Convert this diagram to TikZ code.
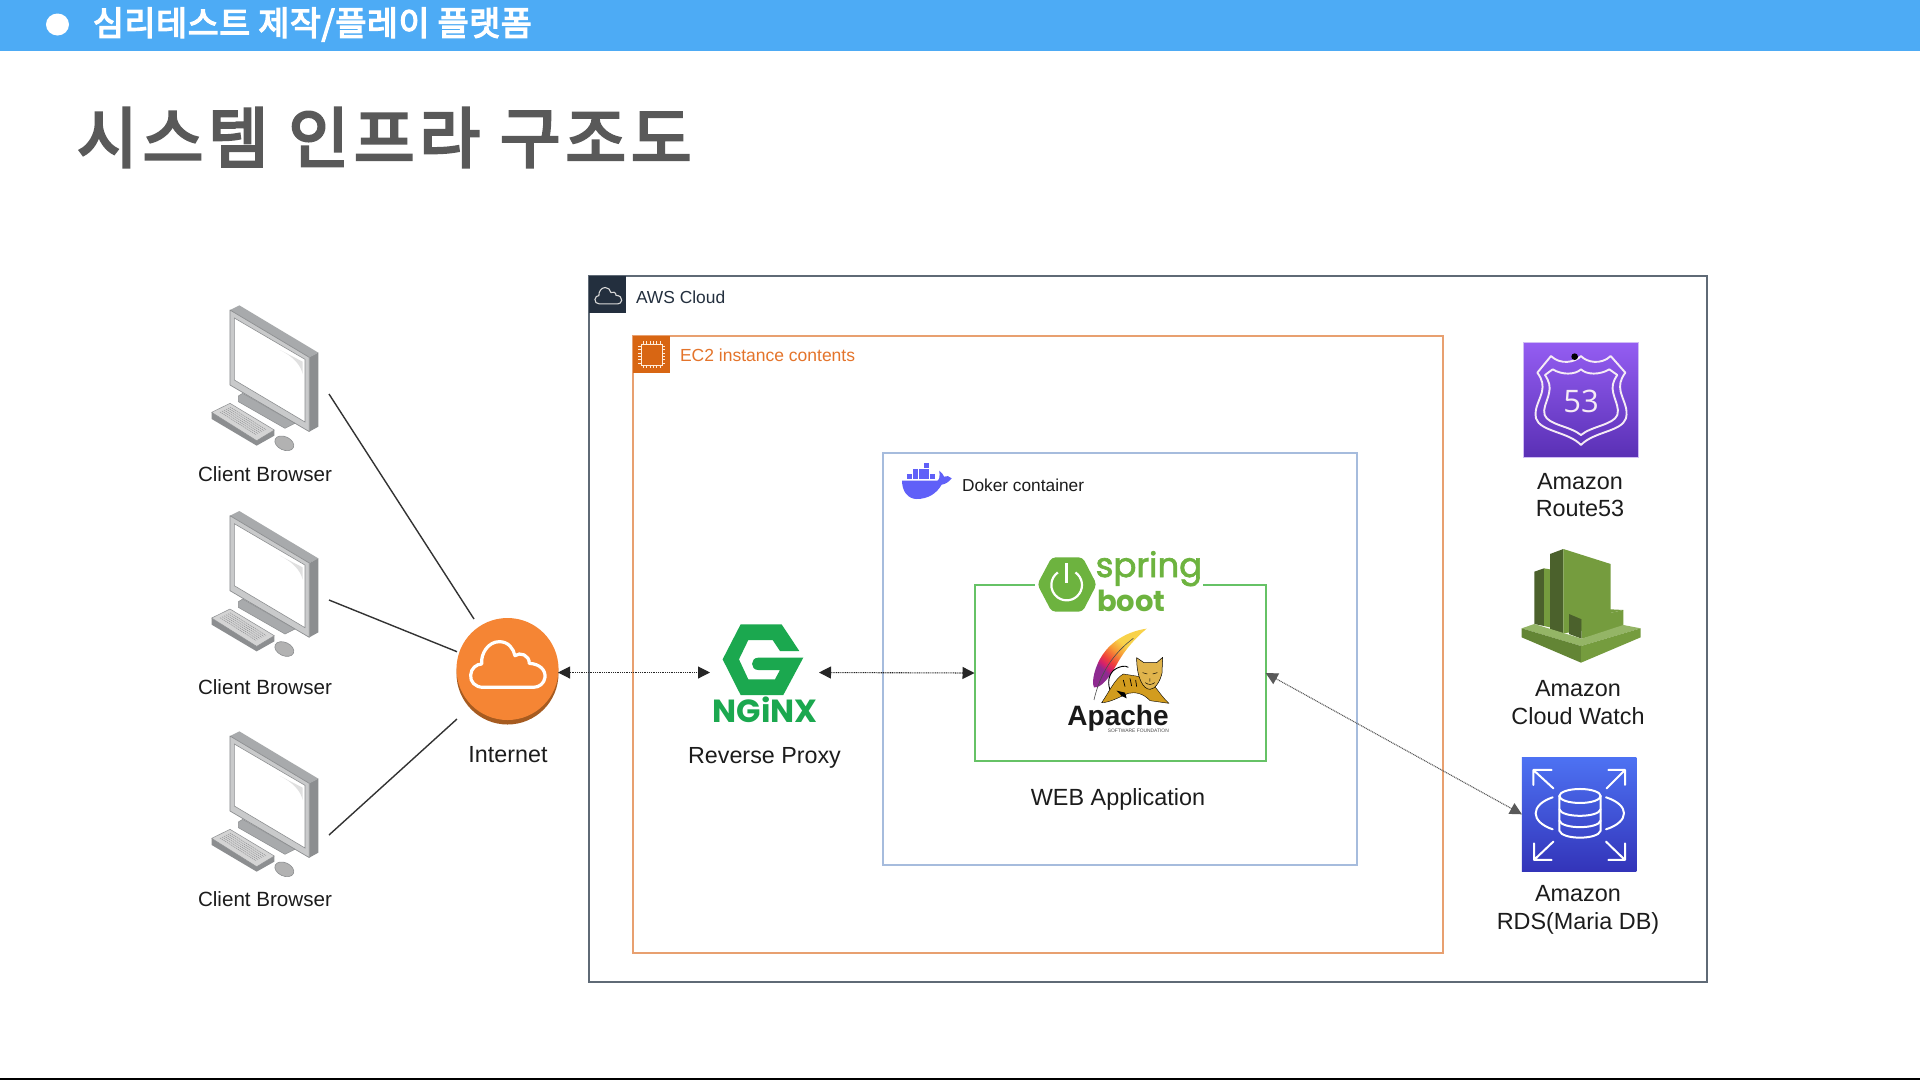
\documentclass[tikz,border=0pt]{standalone}
\usepackage{fontspec}
\setmainfont{Liberation Sans}
\newfontfamily\krhead[FakeBold=4,LetterSpace=2]{Noto Sans CJK KR}
\newfontfamily\krtitle[FakeBold=4,LetterSpace=7.3]{Noto Sans CJK KR}
\newfontfamily\logofont{Poppins}
\newfontfamily\logofontb[FakeBold=2]{Poppins}
\newfontfamily\opfont{Open Sans}
\usetikzlibrary{arrows.meta}
\definecolor{band}{HTML}{4DABF5}
\definecolor{titlegray}{HTML}{595959}
\definecolor{awsdark}{HTML}{232F3E}
\definecolor{awsline}{HTML}{5F6A76}
\definecolor{ectwo}{HTML}{D86613}
\definecolor{ecline}{HTML}{E8A070}
\definecolor{ectext}{HTML}{E4742B}
\definecolor{dockline}{HTML}{A6BCDD}
\definecolor{whale}{HTML}{6060F8}
\definecolor{greenbox}{HTML}{66C266}
\definecolor{springg}{HTML}{6DB33F}
\definecolor{nginxg}{HTML}{1BA84F}
\definecolor{netor}{HTML}{F58534}
\definecolor{netdk}{HTML}{A65B20}
\definecolor{txt}{HTML}{1C1C1C}
\definecolor{cwl}{HTML}{759C3E}
\definecolor{cwd}{HTML}{4B612C}
\definecolor{cwp}{HTML}{94B566}
\definecolor{pcside}{HTML}{8C8E90}
\definecolor{pctop}{HTML}{A8AAAC}
\definecolor{pcface}{HTML}{C9CACB}
\definecolor{catgold}{HTML}{D29C1E}
\definecolor{cathead}{HTML}{E0B44C}
\definecolor{rtop}{HTML}{945DF2}
\definecolor{rbot}{HTML}{5A30B5}
\definecolor{rline}{HTML}{D0BCF5}
\definecolor{dtop}{HTML}{4D72F3}
\definecolor{dbot}{HTML}{3334B9}
\definecolor{fpur}{HTML}{8E2A90}
\definecolor{fmag}{HTML}{D21F6E}
\definecolor{fred}{HTML}{F0403A}
\definecolor{forg}{HTML}{F79A35}
\definecolor{fyel}{HTML}{F8D24A}
\pgfdeclarehorizontalshading{feathershade}{100bp}{color(0bp)=(fpur);color(33bp)=(fpur);color(37bp)=(fmag);color(43bp)=(fred);color(53bp)=(forg);color(62bp)=(fyel);color(100bp)=(fyel)}
\newcommand\px[2]{\fontsize{#1}{#2}\selectfont}
\newcommand\cloudshape{(160,292) .. controls (135,292) and (120,275) .. (122,255) .. controls (123,235) and (140,222) .. (155,222) .. controls (152,190) and (175,155) .. (208,155) .. controls (235,155) and (250,175) .. (255,197) .. controls (270,185) and (298,195) .. (298,220) .. controls (330,222) and (347,240) .. (345,262) .. controls (343,280) and (328,292) .. (310,292) -- cycle}
\newcommand\clientpc[2]{%
\begin{scope}[shift={(#1,#2)},scale=0.3333]
\fill[pctop] (150,60) -- (178,46) -- (415,188) -- (388,202) -- cycle;
\fill[pcside] (388,202) -- (415,188) -- (415,410) -- (388,425) -- cycle;
\fill[pcface,draw=pcside,line width=.7pt,line join=round] (150,60) -- (388,202) -- (388,425) -- (150,285) -- cycle;
\fill[white,draw=pcside,line width=.6pt] (163,84) -- (375,208) -- (375,396) -- (163,270) -- cycle;
\fill[black!12] (300,180) .. controls (340,200) and (362,225) .. (368,252) -- (368,215) -- cycle;
\fill[pctop,draw=pcside,line width=.5pt,line join=round] (175,318) -- (188,310) -- (345,400) -- (315,415) -- (175,335) -- cycle;
\fill[pcside,line join=round] (95,367) -- (95,387) -- (230,467) -- (283,437) -- (283,420) -- (230,450) -- cycle;
\fill[black!17,draw=pcside,line width=.5pt,line join=round] (95,367) -- (150,340) -- (283,420) -- (230,452) -- cycle;
\foreach \i in {0,...,5}{\draw[pcside,line width=.45pt,dash pattern=on 1.3pt off .8pt] ({120+6*\i},{366-3*\i}) -- ({228+6*\i},{434-3*\i});}
\fill[black!30,draw=pcside,line width=.6pt,rotate around={-25:(313,460)}] (313,460) ellipse [x radius=30,y radius=20];
\end{scope}}
\begin{document}
\begin{tikzpicture}[x=1pt,y=-1pt,
  hitbox/.style={rectangle,inner sep=0pt,outer sep=0pt},
  frame/.style={rectangle,draw,inner sep=0pt,outer sep=0pt,line width=2pt},
  lab/.style={inner sep=0pt,outer sep=0pt,align=center,text=txt},
  twoline/.style={lab,font=\px{23.4}{27.8}},
  wire/.style={draw=black!80,line width=1.4pt},
  dotarrow/.style={draw=black!85,line width=1.1pt,dash pattern=on 1pt off .8pt,{Triangle[length=12pt,width=12pt,sep=0pt]}-{Triangle[length=12pt,width=12pt,sep=0pt]}},
  grayarrow/.style={draw=black!65,line width=1.1pt,dash pattern=on 1pt off .8pt,{Triangle[length=12pt,width=12pt]}-{Triangle[length=12pt,width=12pt]}},
  iconline/.style={draw=white,line width=2pt,line join=round,line cap=round}]
\useasboundingbox (0,0) rectangle (1920,1080);
\fill[white] (0,0) rectangle (1920,1080);
% header
\fill[band] (0,0) rectangle (1920,50.5);
\fill[white] (57.5,24.5) ellipse [x radius=11.5,y radius=11];
\node[lab,anchor=west,text=white] (headline) at (93,24.5) {\krhead\px{33.6}{38}심리테스트 제작/플레이 플랫폼};
\node[lab,anchor=west,text=titlegray] (pagetitle) at (77,137.5) {\krtitle\px{66}{76}시스템 인프라 구조도};
\draw[black,line width=1.5pt] (0,1079.2) -- (1920,1079.2);
% frames
\node[frame,draw=awsline,minimum width=1118pt,minimum height=706pt] (aws) at (1148,629) {};
\fill[awsdark] (589,276) rectangle (626,313);
\begin{scope}[shift={(580.3,268.9)},scale=0.12]
\draw[black!15,line width=1.1pt] \cloudshape;
\end{scope}
\node[lab,anchor=west,text=awsdark] (awslabel) at (636,297) {\px{17.4}{20}AWS Cloud};
\node[frame,draw=ecline,minimum width=809.5pt,minimum height=616.6pt] (ecbox) at (1037.75,644.3) {};
\fill[ectwo] (633,336) rectangle (670,372.5);
\draw[white!85!orange,line width=.9pt] (641,344) rectangle (662,365);
\foreach \t in {0,...,5}{
 \draw[white!85!orange,line width=.6pt] ({643+\t*3.4},341) -- ({643+\t*3.4},343.5) ({643+\t*3.4},365.5) -- ({643+\t*3.4},368);
 \draw[white!85!orange,line width=.6pt] (638,{346+\t*3.4}) -- (640.5,{346+\t*3.4}) (662.5,{346+\t*3.4}) -- (665,{346+\t*3.4});}
\node[lab,anchor=west,text=ectext] (eclabel) at (680,355) {\px{17.5}{20}EC2 instance contents};
\node[frame,draw=dockline,minimum width=474pt,minimum height=411.5pt] (docker) at (1120,658.75) {};
% whale
\begin{scope}[shift={(880,450)},scale=0.3333]
\fill[whale] (66,92) -- (172,92) .. controls (178,90) and (180,80) .. (178,62) .. controls (186,68) and (190,74) .. (192,80) .. controls (200,76) and (208,78) .. (215,85) .. controls (205,98) and (195,102) .. (185,104) .. controls (170,130) and (145,147) .. (110,147) .. controls (85,147) and (66,125) .. (66,92) -- cycle;
\foreach \a/\b in {82/73,99/73,116/73,133/73,150/73,99/56,116/56,133/56,133/39}{\fill[whale] (\a,\b) rectangle ++(14.5,15);}
\end{scope}
\node[lab,anchor=west] (docklabel) at (962,485) {\px{17.3}{20}Doker container};
% green box + spring boot
\node[frame,draw=greenbox,minimum width=291.2pt,minimum height=176pt] (webapp) at (1120.1,673) {};
\fill[white] (1035,578) rectangle (1203,592);
\begin{scope}[shift={(960,530)},scale=0.3333]
\fill[springg,rounded corners=4pt] (232,163) -- (275,82) -- (368,82) -- (410,163) -- (368,245) -- (275,245) -- cycle;
\draw[white,line width=2.2pt] (320,165) ++(-55:46) arc[start angle=-55,end angle=235,radius=46];
\draw[white,line width=2.6pt] (320,100) -- (320,160);
\end{scope}
\node[inner sep=0pt,anchor=base west,text=springg] (springword) at (1095.5,577) {\logofontb\px{34}{36}spring};
\node[inner sep=0pt,anchor=base west,text=springg] (bootword) at (1097,611) {\logofont\bfseries\px{29}{32}boot};
% apache
\begin{scope}[shift={(960,530)},scale=0.3333]
\shade[shading=feathershade,shading angle=50] (560,296) .. controls (495,305) and (425,345) .. (403,430) .. controls (398,450) and (398,462) .. (402,472) .. controls (425,475) and (450,440) .. (475,395) .. controls (495,360) and (525,325) .. (560,296) -- cycle;
\draw[black!70,line width=.6pt] (402,510) .. controls (420,430) and (460,370) .. (520,325);
\draw[black,line width=.9pt] (450,480) .. controls (440,450) and (450,425) .. (470,415) .. controls (480,410) and (495,405) .. (505,412);
\fill[catgold,draw=black,line width=.4pt,line join=round] (425,518) .. controls (445,490) and (465,445) .. (490,432) -- (540,440) -- (585,470) .. controls (600,490) and (615,510) .. (627,520) -- (570,512) .. controls (550,490) and (525,485) .. (505,490) .. controls (480,500) and (450,518) .. (425,518) -- cycle;
\fill[cathead,draw=black,line width=.5pt,line join=round] (530,383) -- (552,398) -- (590,398) -- (608,382) -- (606,430) .. controls (600,455) and (585,478) .. (570,478) .. controls (550,478) and (530,445) .. (530,383) -- cycle;
\draw[black,line width=.5pt] (548,428) -- (562,432) (578,432) -- (592,428) (570,445) -- (570,455) (556,458) .. controls (565,465) and (575,465) .. (584,458);
\draw[black,line width=.7pt] (490,450) -- (495,470) (510,445) -- (515,468) (527,450) -- (530,470);
\fill[black] (470,482) -- (495,488) -- (500,505) -- (485,498) -- cycle;
\end{scope}
\node[inner sep=0pt,anchor=base,text=black!90] (apacheword) at (1118,725) {\bfseries\px{28}{30}Apache};
\node[inner sep=0pt,anchor=base east,text=black!70] (apachesub) at (1169,732) {\px{4.9}{5}SOFTWARE FOUNDATION};
\node[lab] (weblabel) at (1118,799.5) {\px{23.4}{27}WEB Application};
% nginx
\begin{scope}[shift={(430,590)},scale=0.3333]
\fill[nginxg,line join=round] (932,103) -- (1055,103) -- (1108,183) -- (1050,183) -- (1028,150) -- (955,150) -- (927,208) -- (955,268) -- (1035,268) -- (1050,240) -- (985,240) .. controls (960,240) and (960,203) .. (985,203) -- (1120,203) -- (1060,315) -- (932,315) -- (878,208) -- cycle;
\end{scope}
\node[inner sep=0pt,anchor=base,text=nginxg] (nginxword) at (765,722) {\logofont\bfseries\px{32}{34}NGiNX};
\node[hitbox,minimum width=109pt,minimum height=99pt] (nginx) at (764.5,672.5) {};
\node[lab] (nginxlabel) at (764.5,757.5) {\px{23.3}{27}Reverse Proxy};
% internet
\fill[netdk] (507.5,673.5) circle [radius=51];
\fill[netor] (507.5,669) circle [radius=51];
\begin{scope}[shift={(430,590)},scale=0.3333]
\draw[white,line width=3.2pt,line join=round] \cloudshape;
\end{scope}
\node[hitbox,minimum width=101pt,minimum height=105pt] (internet) at (507.5,672.5) {};
\node[lab] (internetlabel) at (508,755) {\px{23.3}{27}Internet};
% clients
\clientpc{180}{290}
\clientpc{180}{495.7}
\clientpc{180}{716}
\node[hitbox,minimum width=118pt,minimum height=178pt] (client1) at (270,394) {};
\node[hitbox,minimum width=118pt,minimum height=178pt] (client2) at (270,600) {};
\node[hitbox,minimum width=118pt,minimum height=178pt] (client3) at (270,835) {};
\node[lab] (clientlabel1) at (265,474) {\px{20.6}{24}Client Browser};
\node[lab] (clientlabel2) at (265,687.5) {\px{20.6}{24}Client Browser};
\node[lab] (clientlabel3) at (265,899) {\px{20.6}{24}Client Browser};
\coordinate (netin1) at (474,619);
\coordinate (netin2) at (457,651.7);
\coordinate (netin3) at (457,719);
\draw[wire] (client1.east) -- (netin1);
\draw[wire] (client2.east) -- (netin2);
\draw[wire] (client3.east) -- (netin3);
% route 53
\node[hitbox,draw=rline,line width=.6pt,minimum width=115pt,minimum height=115pt,top color=rtop,bottom color=rbot] (route) at (1581,399.8) {};
\begin{scope}[shift={(1480,320)},scale=0.3333]
\draw[white!92!violet,line width=1.9pt,line join=round] (303,108) .. controls (320,128) and (365,135) .. (392,108) -- (436,158) .. controls (420,180) and (418,195) .. (422,215) .. controls (430,245) and (445,265) .. (438,295) .. controls (425,335) and (340,335) .. (303,375) .. controls (265,335) and (180,335) .. (168,295) .. controls (162,265) and (178,245) .. (186,215) .. controls (190,195) and (188,180) .. (172,158) -- (213,108) .. controls (240,135) and (285,128) .. (303,108) -- cycle;
\draw[white!92!violet,line width=1.9pt,line join=round] (303,148) .. controls (320,165) and (360,165) .. (388,148) -- (412,165) .. controls (398,185) and (395,200) .. (400,220) .. controls (408,250) and (418,265) .. (412,285) .. controls (400,315) and (335,318) .. (303,345) .. controls (270,318) and (205,315) .. (194,285) .. controls (188,265) and (200,250) .. (207,220) .. controls (212,200) and (208,185) .. (195,165) -- (218,148) .. controls (245,165) and (285,165) .. (303,148) -- cycle;
\fill[black] (284,110) circle [radius=10];
\end{scope}
\node[inner sep=0pt,text=white!92!violet] (fiftythree) at (1581,401) {\opfont\px{31}{34}53};
\node[twoline] (routelabel) at (1580,495) {Amazon\\Route53};
% cloud watch
\begin{scope}[shift={(1480,540)},scale=0.3333]
\fill[cwd] (163,95) -- (192,85) -- (192,258) -- (163,252) -- cycle;
\fill[cwl] (192,85) -- (210,88) -- (210,262) -- (192,258) -- cycle;
\fill[cwd] (210,42) -- (250,27) -- (250,280) -- (210,268) -- cycle;
\fill[cwl] (250,27) -- (392,72) -- (392,260) -- (250,280) -- cycle;
\fill[cwl] (267,222) -- (392,208) -- (430,210) -- (305,238) -- cycle;
\fill[cwd] (267,222) -- (305,238) -- (305,296) -- (267,282) -- cycle;
\fill[cwl] (305,238) -- (430,210) -- (430,262) -- (305,296) -- cycle;
\fill[cwp] (125,265) -- (163,252) -- (305,296) -- (430,255) -- (482,265) -- (303,318) -- cycle;
\fill[cwl!85!black] (125,265) -- (303,318) -- (303,368) -- (125,292) -- cycle;
\fill[cwl] (303,318) -- (482,265) -- (482,292) -- (303,368) -- cycle;
\end{scope}
\node[twoline] (watchlabel) at (1578,702.5) {Amazon\\Cloud Watch};
% rds
\node[hitbox,minimum width=114.5pt,minimum height=114.5pt,top color=dtop,bottom color=dbot] (rds) at (1579.2,814.3) {};
\begin{scope}[shift={(1480,540)},scale=0.3333]
\draw[iconline] (160,690) -- (220,745) (160,735) -- (160,690) -- (215,690);
\draw[iconline] (380,745) -- (435,690) (385,690) -- (435,690) -- (435,735);
\draw[iconline] (162,960) -- (220,905) (162,910) -- (162,960) -- (215,960);
\draw[iconline] (435,960) -- (378,905) (385,960) -- (435,960) -- (435,910);
\draw[iconline] (300,768) ellipse [x radius=62,y radius=21];
\draw[iconline] (238,768) -- (238,872) .. controls (245,900) and (355,900) .. (362,872) -- (362,768);
\draw[iconline] (238,808) .. controls (245,834) and (355,834) .. (362,808);
\draw[iconline] (238,842) .. controls (245,868) and (355,868) .. (362,842);
\draw[iconline] (218,772) .. controls (150,795) and (150,845) .. (218,868);
\draw[iconline] (378,772) .. controls (450,795) and (450,845) .. (378,868);
\end{scope}
\node[twoline] (rdslabel) at (1578,910) {Amazon\\RDS(Maria DB)};
% connectors
\draw[dotarrow] (internet.east) -- (nginx.west);
\draw[dotarrow] (nginx.east) -- (webapp.west);
\draw[grayarrow] (webapp.east) -- (rds.west);
\end{tikzpicture}
\end{document}
